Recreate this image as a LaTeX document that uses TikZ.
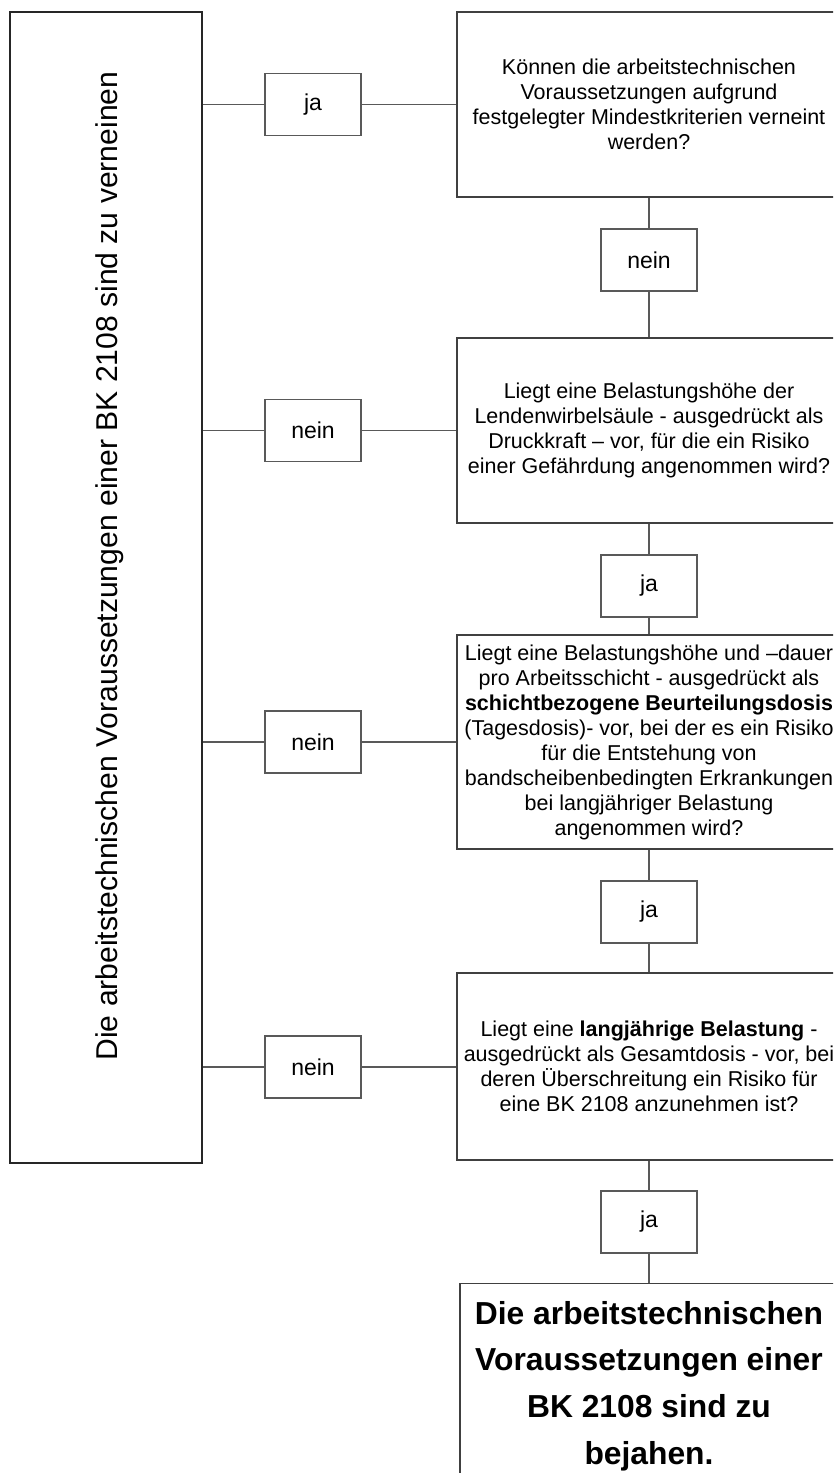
\documentclass[tikz,border=0pt]{standalone}
\usepackage{fontspec}
\setmainfont{Liberation Sans}
\begin{document}
\begin{tikzpicture}[x=1pt,y=-1pt,
  frame/.style={draw=black!85, line width=1.2pt, inner sep=0pt},
  lbl/.style={draw=black!65, line width=1.2pt, minimum width=96pt, minimum height=62pt, inner sep=0pt, font=\fontsize{23}{27}\selectfont},
  qbox/.style={draw=black!75, line width=1.2pt, minimum width=384pt, align=center, inner sep=0pt, font=\fontsize{21.5}{25}\selectfont},
  conn/.style={draw=black!65, line width=1.2pt}
]
\useasboundingbox (0,0) rectangle (833,1473);
\clip (0,0) rectangle (833,1473);
\fill[white] (0,0) rectangle (833,1473);

% left result box
\node[frame, minimum width=192pt, minimum height=1151pt] (L) at (106,587.5) {};
\node[rotate=90, anchor=base, inner sep=0pt, font=\fontsize{30.1}{36}\selectfont] (Ltext) at (117,566)
  {Die arbeitstechnischen Voraussetzungen einer BK 2108 sind zu verneinen};

% question boxes
\node[qbox, minimum height=185pt] (Q1) at (649,104.5)
  {Können die arbeitstechnischen\\Voraussetzungen aufgrund\\festgelegter Mindestkriterien verneint\\werden?};
\node[qbox, minimum height=185pt] (Q2) at (649,430.5)
  {Liegt eine Belastungshöhe der\\Lendenwirbelsäule - ausgedrückt als\\Druckkraft – vor, für die ein Risiko\\einer Gefährdung angenommen wird?};
\node[qbox, minimum height=214pt] (Q3) at (649,742)
  {Liegt eine Belastungshöhe und –dauer\\pro Arbeitsschicht - ausgedrückt als\\\textbf{schichtbezogene Beurteilungsdosis}\\(Tagesdosis)- vor, bei der es ein Risiko\\für die Entstehung von\\bandscheibenbedingten Erkrankungen\\bei langjähriger Belastung\\angenommen wird?};
\node[qbox, minimum height=187pt] (Q4) at (649,1066.5)
  {Liegt eine \textbf{langjährige Belastung} -\\ausgedrückt als Gesamtdosis - vor, bei\\deren Überschreitung ein Risiko für\\eine BK 2108 anzunehmen ist?};

% final box
\node[qbox, minimum width=378pt, minimum height=260pt, anchor=north] (F) at (649,1283) {};
\node[anchor=north, align=center, inner sep=0pt, font=\bfseries\fontsize{31.8}{46.7}\selectfont] (Ftext) at (649,1301)
  {Die arbeitstechnischen\\Voraussetzungen einer\\BK 2108 sind zu\\bejahen.};

% vertical labels
\node[lbl] (v1) at (649,260) {nein};
\node[lbl] (v2) at (649,586) {ja};
\node[lbl] (v3) at (649,912) {ja};
\node[lbl] (v4) at (649,1222) {ja};

% horizontal labels
\node[lbl] (h1) at (313,104.5) {ja};
\node[lbl] (h2) at (313,430.5) {nein};
\node[lbl] (h3) at (313,742) {nein};
\node[lbl] (h4) at (313,1067) {nein};

% vertical connectors
\draw[conn] (Q1.south) -- (v1.north);
\draw[conn] (v1.south) -- (Q2.north);
\draw[conn] (Q2.south) -- (v2.north);
\draw[conn] (v2.south) -- (Q3.north);
\draw[conn] (Q3.south) -- (v3.north);
\draw[conn] (v3.south) -- (Q4.north);
\draw[conn] (Q4.south) -- (v4.north);
\draw[conn] (v4.south) -- (F.north);

% horizontal connectors
\draw[conn] (h1.west) -- (h1.west -| L.east);
\draw[conn] (h1.east) -- (Q1.west);
\draw[conn] (h2.west) -- (h2.west -| L.east);
\draw[conn] (h2.east) -- (Q2.west);
\draw[conn] (h3.west) -- (h3.west -| L.east);
\draw[conn] (h3.east) -- (Q3.west);
\draw[conn] (h4.west) -- (h4.west -| L.east);
\draw[conn] (h4.east) -- (h4.east -| Q4.west);
\end{tikzpicture}
\end{document}
